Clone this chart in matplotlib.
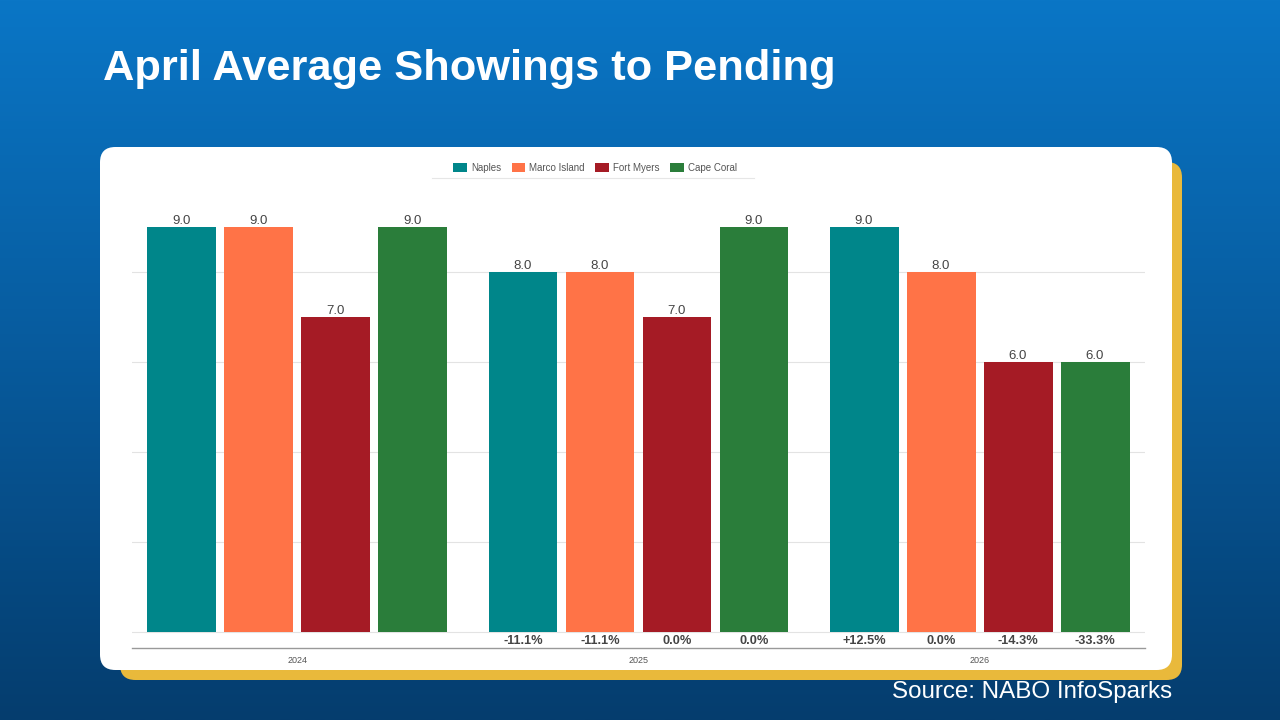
import numpy as np
import matplotlib.pyplot as plt
from matplotlib.patches import FancyBboxPatch, Patch
from matplotlib.lines import Line2D
from matplotlib.colors import LinearSegmentedColormap

plt.rcParams['font.family'] = ['Liberation Sans', 'DejaVu Sans']

#--------- data ---------
years = ['2024', '2025', '2026']
cities = ['Naples', 'Marco Island', 'Fort Myers', 'Cape Coral']
naples = [9.0, 8.0, 9.0]
marco_island = [9.0, 8.0, 8.0]
fort_myers = [7.0, 7.0, 6.0]
cape_coral = [9.0, 9.0, 6.0]
series = [naples, marco_island, fort_myers, cape_coral]
colors = ['#00868a', '#ff7347', '#a51b25', '#2a7d3a']

W, H = 1280, 720
fig = plt.figure(figsize=(12.8, 7.2), dpi=100)

# background gradient
bg = fig.add_axes([0, 0, 1, 1])
bg.axis('off')
grad = LinearSegmentedColormap.from_list('bg', ['#0a76c6', '#075a9c', '#053d6e'])
bg.imshow(np.linspace(0, 1, 256).reshape(-1, 1), aspect='auto', cmap=grad,
          extent=[0, 1, 0, 1], zorder=0)
bg.set_xlim(0, 1)
bg.set_ylim(0, 1)

# card + yellow shadow (pixel coords -> fig fraction)
def box(x0, y0, x1, y1, color, z):
    p = FancyBboxPatch((x0 / W, 1 - y1 / H), (x1 - x0) / W, (y1 - y0) / H,
                       boxstyle="round,pad=0,rounding_size=0.012",
                       transform=bg.transAxes, facecolor=color, edgecolor='none',
                       zorder=z, mutation_aspect=W / H)
    bg.add_patch(p)

box(120, 162, 1182, 680, '#e9b93b', 1)
box(100, 147, 1172, 670, 'white', 2)

fig.text(103 / W, 1 - 69 / H, 'April Average Showings to Pending', color='white',
         fontsize=31.2, fontweight='bold', va='center', ha='left')
fig.text(1172 / W, 1 - 692 / H, 'Source: NABO InfoSparks', color='white',
         fontsize=17.4, va='center', ha='right')

#--------- chart ---------
ax = fig.add_axes([132 / W, 72 / H, (1145 - 132) / W, (648 - 182) / H])
ax.set_facecolor('none')
ax.set_zorder(3)
x = np.arange(len(years))
slot = 0.2258
bw = 0.2023
for i, (vals, c) in enumerate(zip(series, colors)):
    pos = x + (i - 1.5) * slot
    ax.bar(pos, vals, width=bw, color=c, zorder=3, label=cities[i])
    for j in range(len(years)):
        ax.annotate('%.1f' % vals[j], (pos[j], vals[j]), xytext=(0, 0),
                    textcoords='offset points', ha='center', va='bottom',
                    fontsize=9.5, color='#444444')
        if j > 0:
            ch = (vals[j] - vals[j - 1]) / vals[j - 1] * 100
            if abs(ch) < 0.05:
                txt = '0.0%'
            else:
                txt = '%+.1f%%' % ch
            ax.text(pos[j], -0.2, txt, ha='center', va='center', fontsize=9.2,
                    fontweight='bold', color='#444444')

ax.set_xlim(-0.4853, 2.4853)
ax.set_ylim(-0.356, 10)
ax.set_yticks([0, 2, 4, 6, 8])
ax.set_yticklabels([])
ax.tick_params(axis='y', length=0)
ax.grid(axis='y', color='#e3e3e3', linewidth=0.8, zorder=0)
ax.set_xticks(x)
ax.set_xticklabels(years, fontsize=6.5, color='#555555')
ax.tick_params(axis='x', length=0, pad=6)
for s in ['top', 'right', 'left']:
    ax.spines[s].set_visible(False)
ax.spines['bottom'].set_color('#999999')
ax.spines['bottom'].set_linewidth(1)

handles = [Patch(facecolor=c, edgecolor='none') for c in colors]
leg = fig.legend(handles, cities, loc='center', bbox_to_anchor=(595 / W, 1 - 168 / H),
                 ncol=4, frameon=False, fontsize=7, handlelength=1.4, handleheight=1.0,
                 columnspacing=1.1, handletextpad=0.4)
for t in leg.get_texts():
    t.set_color('#555555')
leg.set_zorder(4)
fig.add_artist(Line2D([432 / W, 754 / W], [1 - 178 / H, 1 - 178 / H], color='#e6e6e6',
                      linewidth=0.8, zorder=4))

fig.savefig('out.png', dpi=100)
